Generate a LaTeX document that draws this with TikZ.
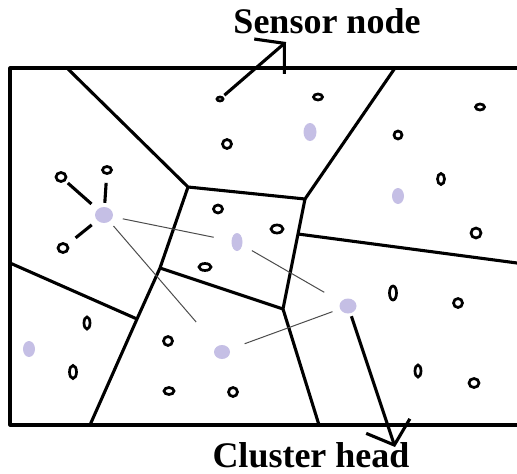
\documentclass[tikz,border=0pt]{standalone}
\usepackage{fontspec}
\setmainfont{Liberation Serif}
\usetikzlibrary{arrows.meta, shapes.geometric}
\definecolor{headfill}{RGB}{197,191,229}
\tikzset{sensor/.style={ellipse,draw,line width=2.7pt,fill=white,inner sep=0pt},
head/.style={ellipse,fill=headfill,inner sep=0pt},
sz/.style 2 args={minimum width=#1pt,minimum height=#2pt},
cell/.style={line width=3.1pt,line join=round},
member/.style={line width=3.1pt},
chlink/.style={line width=1pt,black!70},
tag/.style={font=\bfseries\fontsize{36}{40}\selectfont,inner sep=0pt,anchor=base},
pointer/.style={line width=3.1pt,-{Straight Barb[length=20pt,width=46pt]}}}

\begin{document}
\begin{tikzpicture}[x=1pt,y=-1pt]
\useasboundingbox (0,0) rectangle (517,474);
% field and cells
\draw[cell] (517,68) -- (10,68) -- (10,425) -- (517,425);
\coordinate (ja) at (188,187);
\coordinate (jb) at (305,199);
\coordinate (jc) at (160,268);
\coordinate (jd) at (137,319);
\coordinate (je) at (283,309);
\coordinate (jf) at (298,234);
\draw[cell] (67,68) -- (ja) -- (jb) -- (395,68);
\draw[cell] (ja) -- (jc) -- (jd) -- (90,425);
\draw[cell] (10,263) -- (jd);
\draw[cell] (jc) -- (je);
\draw[cell] (jb) -- (jf) -- (je) -- (319,425);
\draw[cell] (jf) -- (517,263);
% cluster heads
\node[head,sz={13}{18}] (ch1) at (310,132) {};
\node[head,sz={18}{16}] (ch2) at (104,215) {};
\node[head,sz={11}{18}] (ch3) at (237,242) {};
\node[head,sz={12}{16}] (ch4) at (398,196) {};
\node[head,sz={17}{15}] (ch5) at (348,306) {};
\node[head,sz={12}{16}] (ch6) at (29,349) {};
\node[head,sz={16}{14}] (ch7) at (222,352) {};
% sensor nodes
\node[sensor,sz={6}{4}] (s1) at (220,99) {};
\node[sensor,sz={9}{6}] (s2) at (318,97) {};
\node[sensor,sz={9}{6}] (s3) at (480,107) {};
\node[sensor,sz={9}{9}] (s4) at (227,144) {};
\node[sensor,sz={8}{8}] (s5) at (398,135) {};
\node[sensor,sz={10}{9}] (s6) at (61,177) {};
\node[sensor,sz={9}{7}] (s7) at (107,170) {};
\node[sensor,sz={10}{9}] (s8) at (63,248) {};
\node[sensor,sz={9}{8}] (s9) at (218,209) {};
\node[sensor,sz={12}{7}] (s10) at (205,267) {};
\node[sensor,sz={12}{8}] (s11) at (277,229) {};
\node[sensor,sz={7}{11}] (s12) at (441,179) {};
\node[sensor,sz={10}{10}] (s13) at (476,233) {};
\node[sensor,sz={7}{14}] (s14) at (393,293) {};
\node[sensor,sz={9}{9}] (s15) at (458,303) {};
\node[sensor,sz={6}{12}] (s16) at (87,323) {};
\node[sensor,sz={7}{13}] (s17) at (73,372) {};
\node[sensor,sz={9}{9}] (s18) at (168,341) {};
\node[sensor,sz={10}{7}] (s19) at (169,391) {};
\node[sensor,sz={9}{9}] (s20) at (233,392) {};
\node[sensor,sz={6}{12}] (s21) at (418,371) {};
\node[sensor,sz={10}{9}] (s22) at (474,383) {};
% members of one cluster
\draw[member,shorten <=8pt,shorten >=3pt] (ch2) -- (s6);
\draw[member,shorten <=4pt,shorten >=8pt] (ch2) -- (s7);
\draw[member,shorten <=7pt,shorten >=10pt] (ch2) -- (s8);
% links between heads
\draw[chlink,shorten <=10pt,shorten >=18pt] (ch2) -- (ch3);
\draw[chlink,shorten <=6pt,shorten >=32pt] (ch2) -- (ch7);
\draw[chlink,shorten <=11pt,shorten >=19pt] (ch3) -- (ch5);
\draw[chlink,shorten <=16pt,shorten >=8pt] (ch7) -- (ch5);
% labels
\node[tag] (sn) at (327,33) {Sensor node};
\node[tag] (cl) at (311,467) {Cluster head};
\coordinate (stip) at (286,42);
\coordinate (ctip) at (395,447);
\draw[pointer,shorten <=2pt] (s1) -- (stip);
\draw[pointer,shorten <=3pt] (ch5) -- (ctip);
\end{tikzpicture}
\end{document}
